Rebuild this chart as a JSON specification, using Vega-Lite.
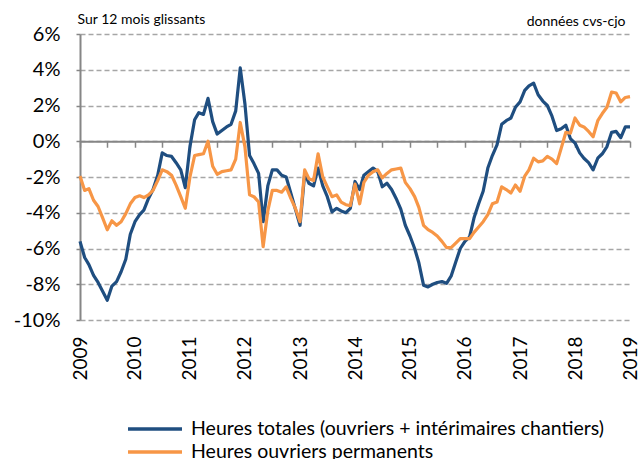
{
  "$schema": "https://vega.github.io/schema/vega-lite/v6.json",
  "autosize": {"type": "none"},
  "padding": {"left": 80, "top": 34, "right": 12, "bottom": 139},
  "width": 550,
  "height": 286,
  "background": "white",
  "config": {
    "font": "Lato",
    "view": {"stroke": null}
  },
  "data": {
    "values": [
      {"date": "2009-01-01", "tot": -5.6, "perm": -1.95},
      {"date": "2009-02-01", "tot": -6.5, "perm": -2.75},
      {"date": "2009-03-01", "tot": -6.9, "perm": -2.65},
      {"date": "2009-04-01", "tot": -7.5, "perm": -3.3},
      {"date": "2009-05-01", "tot": -7.9, "perm": -3.65},
      {"date": "2009-06-01", "tot": -8.4, "perm": -4.3},
      {"date": "2009-07-01", "tot": -8.9, "perm": -4.95},
      {"date": "2009-08-01", "tot": -8.1, "perm": -4.45},
      {"date": "2009-09-01", "tot": -7.85, "perm": -4.7},
      {"date": "2009-10-01", "tot": -7.3, "perm": -4.5},
      {"date": "2009-11-01", "tot": -6.6, "perm": -4.05},
      {"date": "2009-12-01", "tot": -5.2, "perm": -3.5},
      {"date": "2010-01-01", "tot": -4.5, "perm": -3.15},
      {"date": "2010-02-01", "tot": -4.1, "perm": -3.05},
      {"date": "2010-03-01", "tot": -3.85, "perm": -3.15},
      {"date": "2010-04-01", "tot": -3.2, "perm": -3.0},
      {"date": "2010-05-01", "tot": -2.7, "perm": -2.75},
      {"date": "2010-06-01", "tot": -1.9, "perm": -2.2},
      {"date": "2010-07-01", "tot": -0.65, "perm": -1.6},
      {"date": "2010-08-01", "tot": -0.8, "perm": -1.7},
      {"date": "2010-09-01", "tot": -0.85, "perm": -1.9},
      {"date": "2010-10-01", "tot": -1.2, "perm": -2.45},
      {"date": "2010-11-01", "tot": -1.6, "perm": -3.1},
      {"date": "2010-12-01", "tot": -2.6, "perm": -3.75},
      {"date": "2011-01-01", "tot": -0.3, "perm": -2.0},
      {"date": "2011-02-01", "tot": 1.2, "perm": -0.8},
      {"date": "2011-03-01", "tot": 1.6, "perm": -0.75},
      {"date": "2011-04-01", "tot": 1.5, "perm": -0.7},
      {"date": "2011-05-01", "tot": 2.4, "perm": 0.0},
      {"date": "2011-06-01", "tot": 1.1, "perm": -1.4},
      {"date": "2011-07-01", "tot": 0.4, "perm": -1.85},
      {"date": "2011-08-01", "tot": 0.6, "perm": -1.7},
      {"date": "2011-09-01", "tot": 0.8, "perm": -1.65},
      {"date": "2011-10-01", "tot": 0.95, "perm": -1.6},
      {"date": "2011-11-01", "tot": 1.7, "perm": -1.0},
      {"date": "2011-12-01", "tot": 4.1, "perm": 1.05},
      {"date": "2012-01-01", "tot": 2.1, "perm": -0.3},
      {"date": "2012-02-01", "tot": -0.8, "perm": -3.0},
      {"date": "2012-03-01", "tot": -1.25, "perm": -3.1},
      {"date": "2012-04-01", "tot": -1.8, "perm": -3.4},
      {"date": "2012-05-01", "tot": -4.5, "perm": -5.9},
      {"date": "2012-06-01", "tot": -2.5, "perm": -3.9},
      {"date": "2012-07-01", "tot": -1.6, "perm": -2.75},
      {"date": "2012-08-01", "tot": -1.6, "perm": -2.75},
      {"date": "2012-09-01", "tot": -1.9, "perm": -2.85},
      {"date": "2012-10-01", "tot": -2.0, "perm": -2.55},
      {"date": "2012-11-01", "tot": -2.9, "perm": -3.2},
      {"date": "2012-12-01", "tot": -3.8, "perm": -3.75},
      {"date": "2013-01-01", "tot": -4.7, "perm": -4.5},
      {"date": "2013-02-01", "tot": -1.8, "perm": -1.6},
      {"date": "2013-03-01", "tot": -2.35, "perm": -2.1},
      {"date": "2013-04-01", "tot": -2.5, "perm": -2.2},
      {"date": "2013-05-01", "tot": -1.5, "perm": -0.7},
      {"date": "2013-06-01", "tot": -2.5, "perm": -2.0},
      {"date": "2013-07-01", "tot": -3.1, "perm": -2.55},
      {"date": "2013-08-01", "tot": -3.95, "perm": -3.1},
      {"date": "2013-09-01", "tot": -3.75, "perm": -3.0},
      {"date": "2013-10-01", "tot": -3.9, "perm": -3.4},
      {"date": "2013-11-01", "tot": -4.0, "perm": -3.55},
      {"date": "2013-12-01", "tot": -3.75, "perm": -3.6},
      {"date": "2014-01-01", "tot": -2.25, "perm": -2.4},
      {"date": "2014-02-01", "tot": -2.7, "perm": -3.5},
      {"date": "2014-03-01", "tot": -1.9, "perm": -2.3},
      {"date": "2014-04-01", "tot": -1.7, "perm": -1.9},
      {"date": "2014-05-01", "tot": -1.5, "perm": -1.7},
      {"date": "2014-06-01", "tot": -1.7, "perm": -1.6},
      {"date": "2014-07-01", "tot": -2.55, "perm": -2.05},
      {"date": "2014-08-01", "tot": -2.35, "perm": -1.8},
      {"date": "2014-09-01", "tot": -2.7, "perm": -1.6},
      {"date": "2014-10-01", "tot": -3.2, "perm": -1.55},
      {"date": "2014-11-01", "tot": -3.8, "perm": -1.5},
      {"date": "2014-12-01", "tot": -4.7, "perm": -2.3},
      {"date": "2015-01-01", "tot": -5.3, "perm": -2.65},
      {"date": "2015-02-01", "tot": -6.0, "perm": -3.1},
      {"date": "2015-03-01", "tot": -6.8, "perm": -3.7},
      {"date": "2015-04-01", "tot": -8.05, "perm": -4.7},
      {"date": "2015-05-01", "tot": -8.15, "perm": -4.95},
      {"date": "2015-06-01", "tot": -8.0, "perm": -5.1},
      {"date": "2015-07-01", "tot": -7.9, "perm": -5.3},
      {"date": "2015-08-01", "tot": -7.85, "perm": -5.6},
      {"date": "2015-09-01", "tot": -7.95, "perm": -5.95},
      {"date": "2015-10-01", "tot": -7.55, "perm": -5.95},
      {"date": "2015-11-01", "tot": -6.75, "perm": -5.7},
      {"date": "2015-12-01", "tot": -6.0, "perm": -5.45},
      {"date": "2016-01-01", "tot": -5.6, "perm": -5.45},
      {"date": "2016-02-01", "tot": -5.35, "perm": -5.45},
      {"date": "2016-03-01", "tot": -4.3, "perm": -5.1},
      {"date": "2016-04-01", "tot": -3.5, "perm": -4.8},
      {"date": "2016-05-01", "tot": -2.8, "perm": -4.5},
      {"date": "2016-06-01", "tot": -1.5, "perm": -4.1},
      {"date": "2016-07-01", "tot": -0.8, "perm": -3.5},
      {"date": "2016-08-01", "tot": -0.2, "perm": -3.4},
      {"date": "2016-09-01", "tot": 0.95, "perm": -2.55},
      {"date": "2016-10-01", "tot": 1.15, "perm": -2.7},
      {"date": "2016-11-01", "tot": 1.3, "perm": -2.9},
      {"date": "2016-12-01", "tot": 1.9, "perm": -2.45},
      {"date": "2017-01-01", "tot": 2.2, "perm": -2.8},
      {"date": "2017-02-01", "tot": 2.85, "perm": -1.95},
      {"date": "2017-03-01", "tot": 3.1, "perm": -1.6},
      {"date": "2017-04-01", "tot": 3.25, "perm": -0.95},
      {"date": "2017-05-01", "tot": 2.6, "perm": -1.15},
      {"date": "2017-06-01", "tot": 2.25, "perm": -1.1},
      {"date": "2017-07-01", "tot": 2.0, "perm": -0.85},
      {"date": "2017-08-01", "tot": 1.4, "perm": -1.0},
      {"date": "2017-09-01", "tot": 0.6, "perm": -1.25},
      {"date": "2017-10-01", "tot": 0.7, "perm": -0.4},
      {"date": "2017-11-01", "tot": 0.9, "perm": 0.5},
      {"date": "2017-12-01", "tot": 0.15, "perm": 0.45},
      {"date": "2018-01-01", "tot": -0.1, "perm": 1.3},
      {"date": "2018-02-01", "tot": -0.65, "perm": 0.9},
      {"date": "2018-03-01", "tot": -0.95, "perm": 0.8},
      {"date": "2018-04-01", "tot": -1.2, "perm": 0.55},
      {"date": "2018-05-01", "tot": -1.6, "perm": 0.25},
      {"date": "2018-06-01", "tot": -0.95, "perm": 1.15},
      {"date": "2018-07-01", "tot": -0.7, "perm": 1.55},
      {"date": "2018-08-01", "tot": -0.3, "perm": 1.9},
      {"date": "2018-09-01", "tot": 0.5, "perm": 2.75},
      {"date": "2018-10-01", "tot": 0.55, "perm": 2.7},
      {"date": "2018-11-01", "tot": 0.2, "perm": 2.2},
      {"date": "2018-12-01", "tot": 0.8, "perm": 2.45},
      {"date": "2019-01-01", "tot": 0.8, "perm": 2.5}
    ]
  },
  "transform": [
    {"fold": ["tot", "perm"], "as": ["series", "value"]}
  ],
  "encoding": {
    "y": {
      "field": "value",
      "type": "quantitative",
      "scale": {"domain": [-10, 6], "nice": false, "zero": false},
      "axis": {
        "title": "données cvs-cjo",
        "titleAngle": 0,
        "titleX": 545,
        "titleY": -13,
        "titleAlign": "right",
        "titleBaseline": "middle",
        "titleFontSize": 14,
        "titleFontWeight": "normal",
        "titleFont": "Lato",
        "titleColor": "#000000",
        "values": [-10, -8, -6, -4, -2, 0, 2, 4, 6],
        "labelExpr": "datum.value + '%'",
        "labelFontSize": 20,
        "labelFont": "Lato",
        "labelColor": "#000000",
        "labelPadding": 16,
        "domain": true,
        "domainColor": "#868686",
        "domainWidth": 2,
        "ticks": true,
        "tickSize": 4,
        "tickColor": "#868686",
        "tickWidth": 1.5,
        "grid": true,
        "gridColor": "#a6a6a6",
        "gridWidth": 1.5,
        "gridDash": [5, 3]
      }
    }
  },
  "resolve": {"axis": {"x": "independent"}},
  "layer": [
    {
      "mark": {"type": "line", "opacity": 0},
      "encoding": {
        "x": {
          "field": "date",
          "type": "temporal",
          "scale": {"type": "utc", "domain": [{"year": 2009, "month": 1, "date": 1, "utc": true}, {"year": 2019, "month": 1, "date": 1, "utc": true}]},
          "axis": {
            "orient": "bottom",
            "offset": -178.75,
            "title": null,
            "labels": false,
            "grid": false,
            "domain": true,
            "domainColor": "#868686",
            "domainWidth": 2,
            "ticks": true,
            "tickSize": 6,
            "tickColor": "#868686",
            "tickWidth": 1.5,
            "values": [
              {"year": 2009, "month": 1, "date": 1, "utc": true},
              {"year": 2009, "month": 7, "date": 1, "utc": true},
              {"year": 2010, "month": 1, "date": 1, "utc": true},
              {"year": 2010, "month": 7, "date": 1, "utc": true},
              {"year": 2011, "month": 1, "date": 1, "utc": true},
              {"year": 2011, "month": 7, "date": 1, "utc": true},
              {"year": 2012, "month": 1, "date": 1, "utc": true},
              {"year": 2012, "month": 7, "date": 1, "utc": true},
              {"year": 2013, "month": 1, "date": 1, "utc": true},
              {"year": 2013, "month": 7, "date": 1, "utc": true},
              {"year": 2014, "month": 1, "date": 1, "utc": true},
              {"year": 2014, "month": 7, "date": 1, "utc": true},
              {"year": 2015, "month": 1, "date": 1, "utc": true},
              {"year": 2015, "month": 7, "date": 1, "utc": true},
              {"year": 2016, "month": 1, "date": 1, "utc": true},
              {"year": 2016, "month": 7, "date": 1, "utc": true},
              {"year": 2017, "month": 1, "date": 1, "utc": true},
              {"year": 2017, "month": 7, "date": 1, "utc": true},
              {"year": 2018, "month": 1, "date": 1, "utc": true},
              {"year": 2018, "month": 7, "date": 1, "utc": true},
              {"year": 2019, "month": 1, "date": 1, "utc": true}
            ]
          }
        }
      }
    },
    {
      "mark": {"type": "line", "strokeWidth": 3.2, "strokeJoin": "round"},
      "encoding": {
        "x": {
          "field": "date",
          "type": "temporal",
          "axis": {
            "orient": "bottom",
            "title": "Sur 12 mois glissants",
            "titleX": -3,
            "titleY": -301,
            "titleAlign": "left",
            "titleBaseline": "middle",
            "titleAngle": 0,
            "titleFontSize": 14,
            "titleFontWeight": "normal",
            "titleFont": "Lato",
            "titleColor": "#000000",
            "values": [
              {"year": 2009, "month": 1, "date": 1, "utc": true},
              {"year": 2010, "month": 1, "date": 1, "utc": true},
              {"year": 2011, "month": 1, "date": 1, "utc": true},
              {"year": 2012, "month": 1, "date": 1, "utc": true},
              {"year": 2013, "month": 1, "date": 1, "utc": true},
              {"year": 2014, "month": 1, "date": 1, "utc": true},
              {"year": 2015, "month": 1, "date": 1, "utc": true},
              {"year": 2016, "month": 1, "date": 1, "utc": true},
              {"year": 2017, "month": 1, "date": 1, "utc": true},
              {"year": 2018, "month": 1, "date": 1, "utc": true},
              {"year": 2019, "month": 1, "date": 1, "utc": true}
            ],
            "labelExpr": "utcFormat(datum.value, '%Y')",
            "labelAngle": 270,
            "labelAlign": "right",
            "labelBaseline": "middle",
            "labelPadding": 16,
            "labelDy": 4,
            "labelFontSize": 19,
            "labelColor": "#000000",
            "labelFont": "Lato",
            "labelOverlap": false,
            "labelFlush": false,
            "domain": false,
            "ticks": false,
            "grid": false
          }
        },
        "color": {
          "field": "series",
          "type": "nominal",
          "scale": {"domain": ["tot", "perm"], "range": ["#1f4e80", "#f79646"]},
          "legend": {
            "title": null,
            "orient": "none",
            "legendX": 63,
            "legendY": 383,
            "direction": "vertical",
            "symbolType": "M-2.7,0H2.7",
            "symbolSize": 400,
            "symbolStrokeWidth": 3.5,
            "labelOffset": 24,
            "labelFontSize": 19.5,
            "labelFont": "Lato",
            "labelColor": "#000000",
            "labelLimit": 600,
            "rowPadding": 1,
            "padding": 0,
            "labelExpr": "datum.value == 'tot' ? 'Heures totales (ouvriers + intérimaires chantiers)' : 'Heures ouvriers permanents'"
          }
        }
      }
    }
  ]
}
